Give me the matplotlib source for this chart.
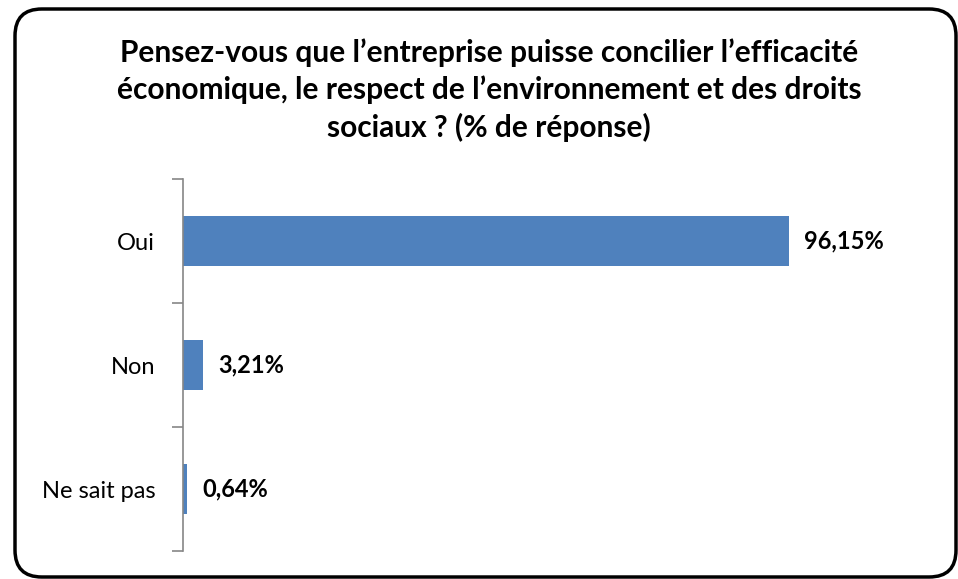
import matplotlib.pyplot as plt
from matplotlib.patches import FancyBboxPatch

categories = ["Oui", "Non", "Ne sait pas"]
values = [96.15, 3.21, 0.64]
labels = ["96,15%", "3,21%", "0,64%"]
title = ("Pensez-vous que l\u2019entreprise puisse concilier l\u2019efficacit\u00e9\n"
         "\u00e9conomique, le respect de l\u2019environnement et des droits\n"
         "sociaux ? (% de r\u00e9ponse)")

plt.rcParams['font.family'] = ['Lato', 'DejaVu Sans']

W, H = 958, 579
fig = plt.figure(figsize=(W / 100, H / 100), dpi=100)

# rounded frame around the chart
x0, x1, y0, y1 = 15, 956, 9, 577
frame = FancyBboxPatch((x0 / W, 1 - y1 / H), (x1 - x0) / W, (y1 - y0) / H,
                       boxstyle="round,pad=0,rounding_size=0.028",
                       transform=fig.transFigure, fill=False,
                       edgecolor="black", linewidth=2.5, clip_on=False,
                       mutation_aspect=W / H)
fig.patches.append(frame)

fig.text(489 / W, 1 - 90 / H, title, ha="center", va="center",
         fontsize=21.5, fontweight="bold", linespacing=1.36)

ax = fig.add_axes([183 / W, 1 - 551 / H, 630 / W, 372 / H])
y = list(range(len(categories)))
ax.barh(y, values, height=0.4, color="#4F81BD")
ax.set_ylim(len(categories) - 0.5, -0.5)
ax.set_xlim(0, 100)

for yi, v, lab in zip(y, values, labels):
    ax.text(v + 2.4, yi, lab, va="center", ha="left",
            fontsize=17, fontweight="bold")

for s in ["top", "right", "bottom"]:
    ax.spines[s].set_visible(False)
ax.spines["left"].set_color("#868686")
ax.spines["left"].set_linewidth(1.2)
ax.set_xticks([])
ax.set_yticks([-0.5, 0.5, 1.5, 2.5])
ax.set_yticklabels([])
ax.tick_params(axis="y", length=8, color="#868686", width=1.2)
ax.set_yticks(y, minor=True)
ax.set_yticklabels(categories, minor=True, fontsize=17)
ax.tick_params(axis="y", which="minor", length=0, pad=20)

fig.savefig("out.png", dpi=100)
